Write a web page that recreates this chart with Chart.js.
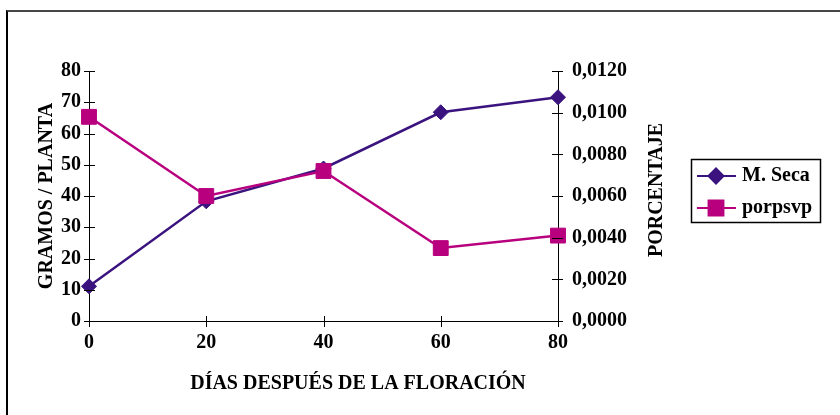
<!DOCTYPE html>
<html lang="es">
<head>
    <meta charset="UTF-8">
    <title>Materia seca y porcentaje</title>
    <style>
        body {
            margin: 0;
            background: white;
        }

        .frame {
            position: absolute;
            left: 6px;
            top: 10px;
            width: 900px;
            height: 500px;
            border-left: 2px solid #000;
            border-top: 2px solid #474747;
        }

        #chart-container {
            position: absolute;
            left: 0;
            top: 0;
            width: 840px;
            height: 415px;
        }
    </style>
</head>
<body>
    <div class="frame"></div>
    <section id="chart-container">
        <canvas id="my-chart" width="840" height="415"></canvas>
    </section>

    <script src="https://cdn.jsdelivr.net/npm/chart.js"></script>
    <script>
        // datos
        const dias = [0, 20, 40, 60, 80];
        const materiaSeca = [11.1, 38.3, 48.8, 66.8, 71.6];
        const porpsvp = [0.0098, 0.0060, 0.0072, 0.0035, 0.0041];
        const xTicks = [0, 20, 40, 60, 80];

        const PURPLE = '#3a137f';
        const MAGENTA = '#b8007f';
        const FONT = "'Liberation Serif', 'Times New Roman', serif";

        const toPoints = (ys) => dias.map((d, i) => ({ x: d, y: ys[i] }));

        // marcas de escala que cruzan el eje, titulos y leyenda con borde
        const decorations = {
            id: 'decorations',
            afterDraw(chart) {
                const ctx = chart.ctx;
                const { x, y, y1 } = chart.scales;
                const area = chart.chartArea;
                ctx.save();
                ctx.strokeStyle = '#000';
                ctx.lineWidth = 1;
                x.ticks.forEach(t => {
                    const px = Math.round(x.getPixelForValue(t.value)) + 0.5;
                    ctx.beginPath();
                    ctx.moveTo(px, area.bottom - 5);
                    ctx.lineTo(px, area.bottom + 6);
                    ctx.stroke();
                });
                y.ticks.forEach(t => {
                    const py = Math.round(y.getPixelForValue(t.value)) + 0.5;
                    ctx.beginPath();
                    ctx.moveTo(area.left - 5, py);
                    ctx.lineTo(area.left + 6, py);
                    ctx.stroke();
                });
                y1.ticks.forEach(t => {
                    const py = Math.round(y1.getPixelForValue(t.value)) + 0.5;
                    ctx.beginPath();
                    ctx.moveTo(area.right - 6, py);
                    ctx.lineTo(area.right + 5, py);
                    ctx.stroke();
                });

                // titulos
                ctx.fillStyle = '#000';
                ctx.font = 'bold 20px ' + FONT;
                ctx.textAlign = 'center';
                ctx.textBaseline = 'middle';
                ctx.fillText('DÍAS DESPUÉS DE LA FLORACIÓN', 358, 384);

                ctx.save();
                ctx.translate(47, 196);
                ctx.rotate(-Math.PI / 2);
                ctx.fillText('GRAMOS / PLANTA', 0, 0);
                ctx.restore();

                ctx.save();
                ctx.translate(657, 190);
                ctx.rotate(-Math.PI / 2);
                ctx.fillText('PORCENTAJE', 0, 0);
                ctx.restore();

                // leyenda
                ctx.lineWidth = 1.5;
                ctx.strokeRect(691.5, 159.5, 129, 63);
                chart.data.datasets.forEach((ds, i) => {
                    const cy = 176 + i * 32;
                    ctx.strokeStyle = ds.borderColor;
                    ctx.lineWidth = 2;
                    ctx.beginPath();
                    ctx.moveTo(697, cy);
                    ctx.lineTo(736, cy);
                    ctx.stroke();
                    Chart.helpers.drawPoint(ctx, {
                        pointStyle: ds.pointStyle,
                        radius: ds.pointRadius,
                        borderWidth: 1
                    }, 716, cy);
                    ctx.fillStyle = ds.backgroundColor;
                    ctx.strokeStyle = ds.borderColor;
                    ctx.fill();
                    ctx.fillStyle = '#000';
                    ctx.textAlign = 'left';
                    ctx.fillText(ds.label, 742, cy);
                });
                ctx.restore();
            }
        };

        const tickFont = { family: FONT, size: 20, weight: 'bold' };

        new Chart(document.getElementById('my-chart'), {
            type: 'line',
            data: {
                datasets: [{
                    label: 'M. Seca',
                    data: toPoints(materiaSeca),
                    yAxisID: 'y',
                    order: 1,
                    borderColor: PURPLE,
                    backgroundColor: PURPLE,
                    borderWidth: 2.5,
                    pointStyle: 'rectRot',
                    pointRadius: 7.5,
                    pointBorderWidth: 1,
                    tension: 0,
                    clip: false
                }, {
                    label: 'porpsvp',
                    data: toPoints(porpsvp),
                    yAxisID: 'y1',
                    order: 0,
                    borderColor: MAGENTA,
                    backgroundColor: MAGENTA,
                    borderWidth: 2.5,
                    pointStyle: 'rect',
                    pointRadius: 10.5,
                    pointBorderWidth: 1,
                    tension: 0,
                    clip: false
                }]
            },
            options: {
                responsive: false,
                animation: false,
                layout: {
                    padding: { left: 0, top: 71, right: 182, bottom: 0 }
                },
                plugins: {
                    legend: { display: false },
                    tooltip: { enabled: false }
                },
                scales: {
                    x: {
                        type: 'linear',
                        min: 0,
                        max: 80,
                        afterBuildTicks: (scale) => {
                            scale.ticks = xTicks.map(v => ({ value: v }));
                        },
                        afterFit: (scale) => { scale.height = 94; },
                        grid: { drawOnChartArea: false, drawTicks: false },
                        border: { color: '#000', width: 1 },
                        ticks: { color: '#000', font: tickFont, padding: 10, maxRotation: 0 }
                    },
                    y: {
                        position: 'left',
                        min: 0,
                        max: 80,
                        afterFit: (scale) => { scale.width = 89; },
                        grid: { drawOnChartArea: false, drawTicks: false },
                        border: { color: '#000', width: 1 },
                        ticks: { color: '#000', font: tickFont, padding: 8, stepSize: 10 }
                    },
                    y1: {
                        position: 'right',
                        min: 0,
                        max: 0.012,
                        afterFit: (scale) => { scale.width = 100; },
                        grid: { drawOnChartArea: false, drawTicks: false },
                        border: { color: '#000', width: 1 },
                        ticks: {
                            color: '#000',
                            font: tickFont,
                            padding: 14,
                            stepSize: 0.002,
                            callback: (v) => v.toFixed(4).replace('.', ',')
                        }
                    }
                }
            },
            plugins: [decorations]
        });
    </script>
</body>
</html>
